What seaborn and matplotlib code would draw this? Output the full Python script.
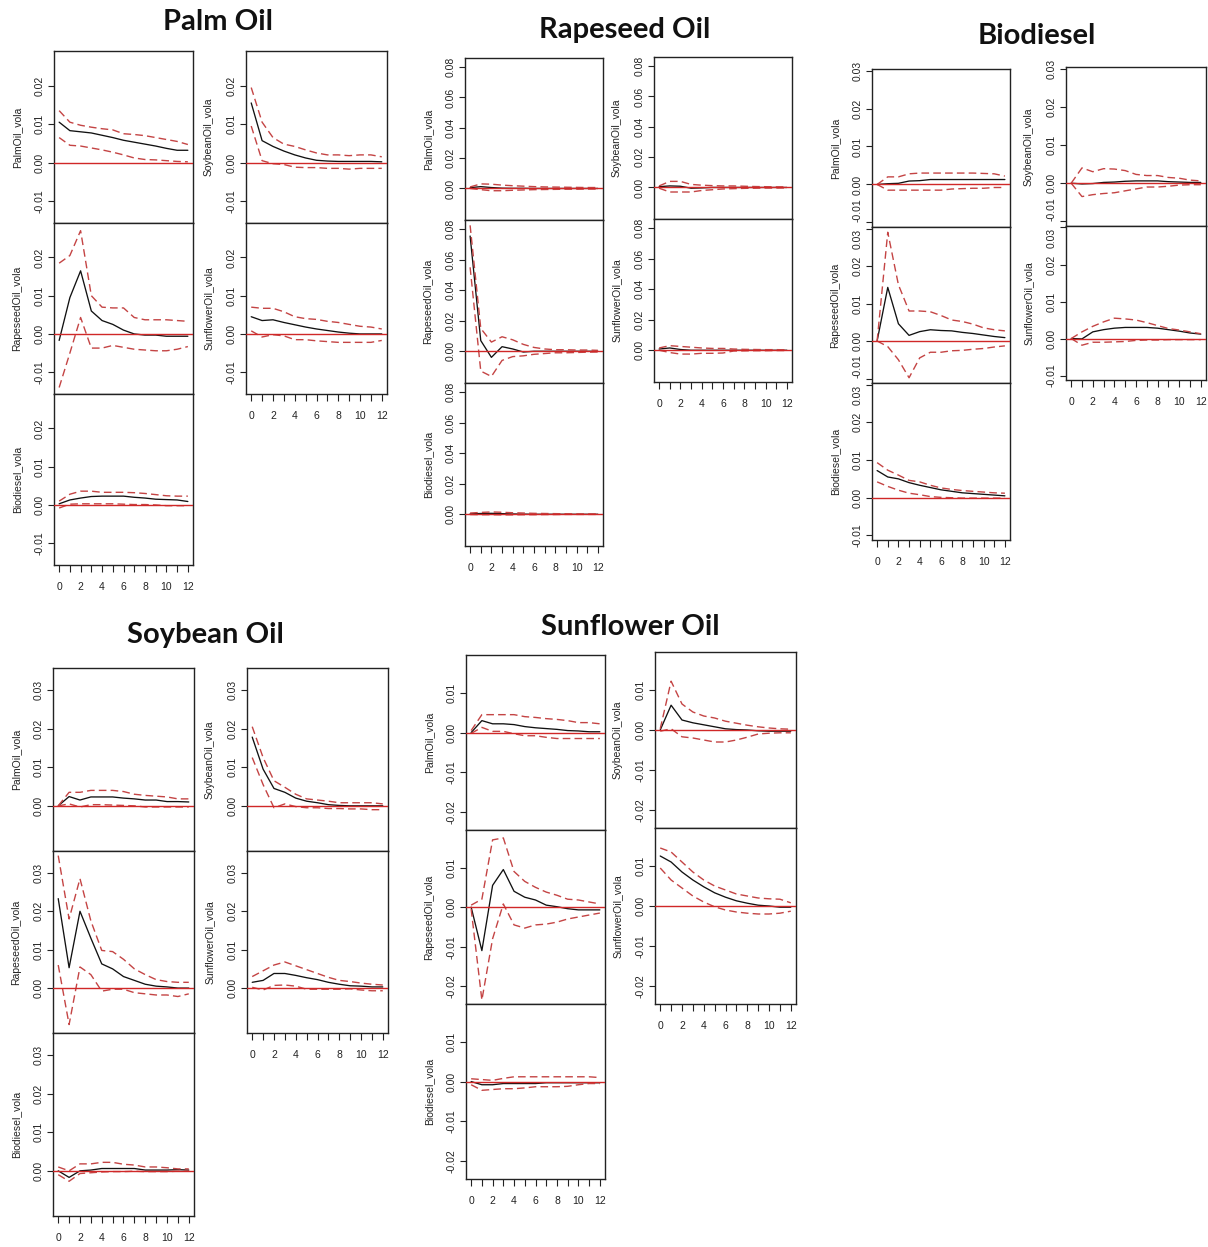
import matplotlib
matplotlib.use("Agg")
import matplotlib.pyplot as plt
import seaborn as sns
import pandas as pd

sns.set_style("ticks")
plt.rcParams['font.family'] = ['Liberation Sans', 'DejaVu Sans']

# ---------------- data ----------------
horizon = [0, 1, 2, 3, 4, 5, 6, 7, 8, 9, 10, 11, 12]
impulses = ["Palm Oil", "Rapeseed Oil", "Biodiesel", "Soybean Oil", "Sunflower Oil"]
responses = ["PalmOil_vola", "RapeseedOil_vola", "Biodiesel_vola", "SoybeanOil_vola", "SunflowerOil_vola"]

# --- impulse: Palm Oil ---
palm_palm = [0.0105, 0.0083, 0.0080, 0.0077, 0.0071, 0.0065, 0.0058, 0.0053, 0.0048, 0.0043, 0.0037, 0.0032, 0.0032]
palm_palm_hi = [0.0135, 0.0105, 0.0097, 0.0092, 0.0088, 0.0085, 0.0075, 0.0073, 0.0070, 0.0065, 0.0060, 0.0055, 0.0047]
palm_palm_lo = [0.0065, 0.0045, 0.0043, 0.0038, 0.0033, 0.0027, 0.0020, 0.0012, 0.0008, 0.0007, 0.0005, 0.0003, 0.0002]
palm_rape = [-0.0017, 0.0095, 0.0165, 0.0060, 0.0035, 0.0025, 0.0010, 0.0000, -0.0003, -0.0003, -0.0006, -0.0006, -0.0006]
palm_rape_hi = [0.0185, 0.0205, 0.0270, 0.0100, 0.0070, 0.0068, 0.0068, 0.0043, 0.0037, 0.0037, 0.0037, 0.0035, 0.0033]
palm_rape_lo = [-0.0140, -0.0050, 0.0043, -0.0037, -0.0037, -0.0030, -0.0035, -0.0040, -0.0042, -0.0044, -0.0044, -0.0040, -0.0033]
palm_bio = [0.0003, 0.0013, 0.0018, 0.0022, 0.0023, 0.0023, 0.0023, 0.0020, 0.0018, 0.0015, 0.0014, 0.0013, 0.0009]
palm_bio_hi = [0.0010, 0.0028, 0.0036, 0.0036, 0.0033, 0.0033, 0.0033, 0.0032, 0.0030, 0.0027, 0.0024, 0.0023, 0.0023]
palm_bio_lo = [-0.0008, 0.0002, 0.0003, 0.0003, 0.0003, 0.0003, 0.0002, 0.0001, 0.0001, 0.0000, -0.0002, -0.0002, -0.0002]
palm_soy = [0.0155, 0.0057, 0.0042, 0.0030, 0.0020, 0.0012, 0.0006, 0.0004, 0.0003, 0.0003, 0.0003, 0.0003, 0.0002]
palm_soy_hi = [0.0195, 0.0105, 0.0065, 0.0048, 0.0042, 0.0033, 0.0025, 0.0020, 0.0020, 0.0018, 0.0020, 0.0020, 0.0015]
palm_soy_lo = [0.0095, 0.0005, -0.0003, -0.0005, -0.0012, -0.0013, -0.0013, -0.0015, -0.0015, -0.0017, -0.0015, -0.0015, -0.0015]
palm_sun = [0.0045, 0.0035, 0.0037, 0.0030, 0.0024, 0.0018, 0.0013, 0.0009, 0.0005, 0.0002, 0.0000, 0.0000, 0.0000]
palm_sun_hi = [0.0070, 0.0067, 0.0067, 0.0058, 0.0045, 0.0040, 0.0038, 0.0033, 0.0030, 0.0025, 0.0020, 0.0018, 0.0013]
palm_sun_lo = [0.0008, -0.0008, -0.0002, -0.0005, -0.0015, -0.0015, -0.0018, -0.0020, -0.0022, -0.0022, -0.0022, -0.0022, -0.0017]

# --- impulse: Rapeseed Oil ---
rape_palm = [0.0005, 0.0012, 0.0006, 0.0002, 0.0001, 0.0001, 0.0000, 0.0000, 0.0000, 0.0000, 0.0000, 0.0000, 0.0000]
rape_palm_hi = [0.0010, 0.0030, 0.0028, 0.0022, 0.0018, 0.0015, 0.0012, 0.0010, 0.0009, 0.0008, 0.0007, 0.0006, 0.0006]
rape_palm_lo = [0.0000, -0.0008, -0.0015, -0.0015, -0.0012, -0.0010, -0.0008, -0.0007, -0.0006, -0.0005, -0.0005, -0.0004, -0.0004]
rape_rape = [0.0755, 0.0070, -0.0040, 0.0030, 0.0015, -0.0005, 0.0000, 0.0000, 0.0000, 0.0000, 0.0000, 0.0000, 0.0000]
rape_rape_hi = [0.0825, 0.0150, 0.0060, 0.0095, 0.0075, 0.0045, 0.0025, 0.0015, 0.0010, 0.0010, 0.0008, 0.0008, 0.0006]
rape_rape_lo = [0.0550, -0.0130, -0.0165, -0.0060, -0.0035, -0.0030, -0.0020, -0.0015, -0.0010, -0.0010, -0.0008, -0.0006, -0.0005]
rape_bio = [0.0003, 0.0005, 0.0006, 0.0004, 0.0002, 0.0001, 0.0000, 0.0000, 0.0000, 0.0000, 0.0000, 0.0000, 0.0000]
rape_bio_hi = [0.0008, 0.0012, 0.0015, 0.0013, 0.0010, 0.0008, 0.0006, 0.0005, 0.0004, 0.0003, 0.0002, 0.0002, 0.0002]
rape_bio_lo = [-0.0002, -0.0003, -0.0003, -0.0004, -0.0004, -0.0003, -0.0003, -0.0002, -0.0002, -0.0001, -0.0001, -0.0001, -0.0001]
rape_soy = [0.0005, 0.0010, 0.0008, -0.0005, -0.0003, 0.0000, 0.0000, 0.0000, 0.0000, 0.0000, 0.0000, 0.0000, 0.0000]
rape_soy_hi = [0.0010, 0.0040, 0.0040, 0.0020, 0.0015, 0.0012, 0.0010, 0.0010, 0.0008, 0.0006, 0.0005, 0.0004, 0.0004]
rape_soy_lo = [-0.0005, -0.0030, -0.0030, -0.0030, -0.0020, -0.0015, -0.0010, -0.0008, -0.0006, -0.0005, -0.0004, -0.0004, -0.0003]
rape_sun = [0.0008, 0.0015, 0.0005, 0.0000, 0.0000, 0.0000, 0.0000, 0.0000, 0.0000, 0.0000, 0.0000, 0.0000, 0.0000]
rape_sun_hi = [0.0015, 0.0030, 0.0025, 0.0020, 0.0015, 0.0012, 0.0012, 0.0008, 0.0006, 0.0005, 0.0004, 0.0004, 0.0003]
rape_sun_lo = [0.0000, -0.0015, -0.0025, -0.0025, -0.0020, -0.0020, -0.0018, -0.0005, -0.0004, -0.0003, -0.0003, -0.0002, -0.0002]

# --- impulse: Biodiesel ---
bio_palm = [0.0000, 0.0002, 0.0003, 0.0009, 0.0010, 0.0013, 0.0013, 0.0013, 0.0013, 0.0013, 0.0013, 0.0013, 0.0013]
bio_palm_hi = [0.0000, 0.0020, 0.0020, 0.0028, 0.0030, 0.0030, 0.0030, 0.0030, 0.0030, 0.0030, 0.0029, 0.0028, 0.0022]
bio_palm_lo = [0.0000, -0.0015, -0.0015, -0.0015, -0.0015, -0.0015, -0.0015, -0.0012, -0.0011, -0.0010, -0.0010, -0.0008, -0.0008]
bio_rape = [0.0000, 0.0143, 0.0046, 0.0015, 0.0025, 0.0030, 0.0028, 0.0027, 0.0023, 0.0020, 0.0016, 0.0012, 0.0009]
bio_rape_hi = [0.0000, 0.0290, 0.0150, 0.0080, 0.0080, 0.0078, 0.0068, 0.0056, 0.0052, 0.0045, 0.0035, 0.0030, 0.0027]
bio_rape_lo = [0.0000, -0.0015, -0.0050, -0.0098, -0.0045, -0.0030, -0.0030, -0.0026, -0.0025, -0.0022, -0.0020, -0.0016, -0.0013]
bio_bio = [0.0072, 0.0055, 0.0050, 0.0040, 0.0033, 0.0027, 0.0021, 0.0017, 0.0013, 0.0011, 0.0009, 0.0007, 0.0005]
bio_bio_hi = [0.0093, 0.0073, 0.0060, 0.0046, 0.0042, 0.0033, 0.0026, 0.0022, 0.0019, 0.0017, 0.0015, 0.0013, 0.0012]
bio_bio_lo = [0.0042, 0.0030, 0.0020, 0.0012, 0.0008, 0.0003, 0.0001, 0.0000, -0.0001, -0.0001, -0.0001, -0.0001, -0.0001]
bio_soy = [0.0000, -0.0002, -0.0001, 0.0002, 0.0003, 0.0005, 0.0006, 0.0006, 0.0006, 0.0004, 0.0003, 0.0002, 0.0002]
bio_soy_hi = [0.0000, 0.0040, 0.0030, 0.0038, 0.0037, 0.0033, 0.0023, 0.0020, 0.0020, 0.0015, 0.0013, 0.0008, 0.0006]
bio_soy_lo = [0.0000, -0.0035, -0.0030, -0.0027, -0.0025, -0.0020, -0.0015, -0.0010, -0.0010, -0.0008, -0.0005, -0.0004, -0.0004]
bio_sun = [0.0000, -0.0001, 0.0018, 0.0024, 0.0028, 0.0030, 0.0030, 0.0030, 0.0028, 0.0024, 0.0020, 0.0015, 0.0012]
bio_sun_hi = [0.0000, 0.0018, 0.0033, 0.0045, 0.0055, 0.0053, 0.0050, 0.0043, 0.0035, 0.0027, 0.0023, 0.0018, 0.0013]
bio_sun_lo = [0.0000, -0.0018, -0.0010, -0.0010, -0.0009, -0.0008, -0.0005, -0.0004, -0.0004, -0.0003, -0.0003, -0.0003, -0.0003]

# --- impulse: Soybean Oil ---
soy_palm = [0.0000, 0.0024, 0.0015, 0.0023, 0.0023, 0.0023, 0.0020, 0.0018, 0.0015, 0.0015, 0.0011, 0.0011, 0.0010]
soy_palm_hi = [0.0000, 0.0035, 0.0035, 0.0040, 0.0040, 0.0040, 0.0037, 0.0030, 0.0027, 0.0025, 0.0023, 0.0018, 0.0018]
soy_palm_lo = [0.0000, 0.0005, -0.0003, 0.0003, 0.0003, 0.0002, 0.0001, 0.0000, -0.0003, -0.0003, -0.0003, -0.0003, -0.0003]
soy_rape = [0.0233, 0.0053, 0.0200, 0.0130, 0.0063, 0.0050, 0.0030, 0.0020, 0.0010, 0.0005, 0.0003, 0.0000, 0.0000]
soy_rape_hi = [0.0345, 0.0180, 0.0285, 0.0175, 0.0098, 0.0095, 0.0075, 0.0050, 0.0035, 0.0022, 0.0017, 0.0015, 0.0015]
soy_rape_lo = [0.0060, -0.0095, 0.0055, 0.0035, -0.0008, -0.0003, -0.0003, -0.0012, -0.0015, -0.0018, -0.0018, -0.0022, -0.0015]
soy_bio = [0.0000, -0.0017, 0.0000, 0.0002, 0.0006, 0.0006, 0.0006, 0.0006, 0.0002, 0.0002, 0.0002, 0.0003, 0.0002]
soy_bio_hi = [0.0010, 0.0000, 0.0018, 0.0018, 0.0022, 0.0022, 0.0017, 0.0015, 0.0010, 0.0010, 0.0008, 0.0005, 0.0005]
soy_bio_lo = [-0.0010, -0.0027, -0.0007, -0.0005, -0.0003, -0.0002, -0.0002, -0.0001, -0.0002, -0.0002, -0.0002, -0.0001, -0.0001]
soy_soy = [0.0178, 0.0095, 0.0045, 0.0035, 0.0020, 0.0012, 0.0008, 0.0003, 0.0001, 0.0000, 0.0000, 0.0000, 0.0000]
soy_soy_hi = [0.0205, 0.0125, 0.0065, 0.0048, 0.0030, 0.0018, 0.0015, 0.0012, 0.0008, 0.0008, 0.0008, 0.0008, 0.0005]
soy_soy_lo = [0.0125, 0.0055, -0.0005, 0.0005, -0.0002, -0.0005, -0.0005, -0.0007, -0.0007, -0.0008, -0.0008, -0.0010, -0.0010]
soy_sun = [0.0015, 0.0020, 0.0038, 0.0038, 0.0033, 0.0027, 0.0022, 0.0015, 0.0010, 0.0006, 0.0005, 0.0003, 0.0003]
soy_sun_hi = [0.0030, 0.0045, 0.0060, 0.0068, 0.0058, 0.0048, 0.0038, 0.0028, 0.0020, 0.0017, 0.0013, 0.0010, 0.0008]
soy_sun_lo = [0.0002, -0.0005, 0.0007, 0.0008, 0.0005, -0.0003, -0.0003, -0.0003, -0.0003, -0.0002, -0.0005, -0.0007, -0.0007]

# --- impulse: Sunflower Oil ---
sun_palm = [0.0000, 0.0030, 0.0022, 0.0022, 0.0020, 0.0015, 0.0012, 0.0010, 0.0008, 0.0005, 0.0004, 0.0002, 0.0002]
sun_palm_hi = [0.0005, 0.0045, 0.0045, 0.0045, 0.0045, 0.0040, 0.0038, 0.0035, 0.0033, 0.0030, 0.0025, 0.0025, 0.0022]
sun_palm_lo = [-0.0002, 0.0013, 0.0003, 0.0003, -0.0003, -0.0008, -0.0008, -0.0012, -0.0015, -0.0015, -0.0015, -0.0015, -0.0015]
sun_rape = [0.0000, -0.0110, 0.0055, 0.0095, 0.0040, 0.0025, 0.0018, 0.0005, 0.0001, -0.0004, -0.0007, -0.0007, -0.0007]
sun_rape_hi = [0.0005, 0.0020, 0.0170, 0.0175, 0.0090, 0.0065, 0.0050, 0.0038, 0.0030, 0.0020, 0.0018, 0.0013, 0.0008]
sun_rape_lo = [-0.0005, -0.0235, -0.0080, 0.0008, -0.0045, -0.0053, -0.0045, -0.0043, -0.0038, -0.0030, -0.0025, -0.0020, -0.0015]
sun_bio = [0.0000, -0.0008, -0.0008, -0.0005, -0.0005, -0.0005, -0.0005, -0.0003, -0.0003, -0.0003, -0.0003, -0.0003, -0.0003]
sun_bio_hi = [0.0007, 0.0005, 0.0003, 0.0008, 0.0012, 0.0012, 0.0012, 0.0012, 0.0012, 0.0012, 0.0012, 0.0012, 0.0010]
sun_bio_lo = [-0.0008, -0.0022, -0.0020, -0.0018, -0.0018, -0.0016, -0.0013, -0.0013, -0.0013, -0.0012, -0.0008, -0.0005, -0.0005]
sun_soy = [0.0000, 0.0062, 0.0025, 0.0018, 0.0013, 0.0008, 0.0003, 0.0001, 0.0000, -0.0002, -0.0003, -0.0003, -0.0003]
sun_soy_hi = [0.0003, 0.0122, 0.0065, 0.0045, 0.0035, 0.0030, 0.0022, 0.0017, 0.0012, 0.0008, 0.0005, 0.0003, 0.0002]
sun_soy_lo = [-0.0003, 0.0003, -0.0017, -0.0020, -0.0025, -0.0030, -0.0030, -0.0025, -0.0018, -0.0010, -0.0008, -0.0007, -0.0007]
sun_sun = [0.0125, 0.0110, 0.0085, 0.0065, 0.0048, 0.0033, 0.0022, 0.0013, 0.0007, 0.0002, 0.0000, -0.0003, -0.0003]
sun_sun_hi = [0.0145, 0.0135, 0.0110, 0.0085, 0.0065, 0.0050, 0.0040, 0.0030, 0.0025, 0.0020, 0.0018, 0.0017, 0.0008]
sun_sun_lo = [0.0095, 0.0065, 0.0045, 0.0025, 0.0010, -0.0002, -0.0010, -0.0015, -0.0018, -0.0020, -0.0020, -0.0018, -0.0013]

# table built from the named arrays: (impulse, response) -> (irf, lo, hi)
series = {
    ("Palm Oil", "PalmOil_vola"): (palm_palm, palm_palm_lo, palm_palm_hi),
    ("Palm Oil", "RapeseedOil_vola"): (palm_rape, palm_rape_lo, palm_rape_hi),
    ("Palm Oil", "Biodiesel_vola"): (palm_bio, palm_bio_lo, palm_bio_hi),
    ("Palm Oil", "SoybeanOil_vola"): (palm_soy, palm_soy_lo, palm_soy_hi),
    ("Palm Oil", "SunflowerOil_vola"): (palm_sun, palm_sun_lo, palm_sun_hi),
    ("Rapeseed Oil", "PalmOil_vola"): (rape_palm, rape_palm_lo, rape_palm_hi),
    ("Rapeseed Oil", "RapeseedOil_vola"): (rape_rape, rape_rape_lo, rape_rape_hi),
    ("Rapeseed Oil", "Biodiesel_vola"): (rape_bio, rape_bio_lo, rape_bio_hi),
    ("Rapeseed Oil", "SoybeanOil_vola"): (rape_soy, rape_soy_lo, rape_soy_hi),
    ("Rapeseed Oil", "SunflowerOil_vola"): (rape_sun, rape_sun_lo, rape_sun_hi),
    ("Biodiesel", "PalmOil_vola"): (bio_palm, bio_palm_lo, bio_palm_hi),
    ("Biodiesel", "RapeseedOil_vola"): (bio_rape, bio_rape_lo, bio_rape_hi),
    ("Biodiesel", "Biodiesel_vola"): (bio_bio, bio_bio_lo, bio_bio_hi),
    ("Biodiesel", "SoybeanOil_vola"): (bio_soy, bio_soy_lo, bio_soy_hi),
    ("Biodiesel", "SunflowerOil_vola"): (bio_sun, bio_sun_lo, bio_sun_hi),
    ("Soybean Oil", "PalmOil_vola"): (soy_palm, soy_palm_lo, soy_palm_hi),
    ("Soybean Oil", "RapeseedOil_vola"): (soy_rape, soy_rape_lo, soy_rape_hi),
    ("Soybean Oil", "Biodiesel_vola"): (soy_bio, soy_bio_lo, soy_bio_hi),
    ("Soybean Oil", "SoybeanOil_vola"): (soy_soy, soy_soy_lo, soy_soy_hi),
    ("Soybean Oil", "SunflowerOil_vola"): (soy_sun, soy_sun_lo, soy_sun_hi),
    ("Sunflower Oil", "PalmOil_vola"): (sun_palm, sun_palm_lo, sun_palm_hi),
    ("Sunflower Oil", "RapeseedOil_vola"): (sun_rape, sun_rape_lo, sun_rape_hi),
    ("Sunflower Oil", "Biodiesel_vola"): (sun_bio, sun_bio_lo, sun_bio_hi),
    ("Sunflower Oil", "SoybeanOil_vola"): (sun_soy, sun_soy_lo, sun_soy_hi),
    ("Sunflower Oil", "SunflowerOil_vola"): (sun_sun, sun_sun_lo, sun_sun_hi),
}

# axis scales per impulse block
y_limits = {
    "Palm Oil": (-0.0157, 0.0290),
    "Rapeseed Oil": (-0.0208, 0.0860),
    "Biodiesel": (-0.0112, 0.0304),
    "Soybean Oil": (-0.0117, 0.0357),
    "Sunflower Oil": (-0.0245, 0.0195),
}
y_ticks = {
    "Palm Oil": [-0.01, 0.0, 0.01, 0.02],
    "Rapeseed Oil": [0.0, 0.02, 0.04, 0.06, 0.08],
    "Biodiesel": [-0.01, 0.0, 0.01, 0.02, 0.03],
    "Soybean Oil": [0.0, 0.01, 0.02, 0.03],
    "Sunflower Oil": [-0.02, -0.01, 0.0, 0.01],
}

# ---------------- layout (pixels) ----------------
W, H = 1208, 1247
layout = {
    "Palm Oil": dict(title=(218, 22), left=(54, 193, [51, 223, 394, 565]), right=(246, 387, [51, 223, 394])),
    "Rapeseed Oil": dict(title=(625, 30), left=(465, 603, [58, 220, 383, 546]), right=(654, 792, [57, 219, 382])),
    "Biodiesel": dict(title=(1037, 36), left=(872, 1010, [69, 227, 383, 540]), right=(1066, 1206, [67, 226, 380])),
    "Soybean Oil": dict(title=(205, 635), left=(53, 194, [668, 851, 1033, 1216]), right=(247, 388, [668, 851, 1033])),
    "Sunflower Oil": dict(title=(630, 627), left=(466, 605, [655, 830, 1004, 1179]), right=(655, 796, [652, 828, 1004])),
}
left_vars = ["PalmOil_vola", "RapeseedOil_vola", "Biodiesel_vola"]
right_vars = ["SoybeanOil_vola", "SunflowerOil_vola"]

BLACK = "#111111"
DASH = "#c44444"
ZERO = "#d02828"

fig = plt.figure(figsize=(W / 100, H / 100), dpi=100)


def draw_panel(impulse, resp, x0, x1, y0, y1, is_bottom, is_top):
    ax = fig.add_axes([x0 / W, 1 - y1 / H, (x1 - x0) / W, (y1 - y0) / H])
    irf, lo, hi = series[(impulse, resp)]
    df = pd.DataFrame({"h": horizon, "irf": irf, "lo": lo, "hi": hi})
    sns.lineplot(data=df, x="h", y="irf", ax=ax, color=BLACK, lw=0.95, zorder=3)
    for col in ["lo", "hi"]:
        sns.lineplot(data=df, x="h", y=col, ax=ax, color=DASH, lw=1.0,
                     linestyle=(0, (5.5, 3)), zorder=4)
    ax.axhline(0, color=ZERO, lw=1.0, zorder=5)
    ax.set_xlim(-0.48, 12.48)
    ylo, yhi = y_limits[impulse]
    ax.set_ylim(ylo, yhi)
    ticks = y_ticks[impulse]
    ax.set_yticks(ticks)
    labels = ax.set_yticklabels([f"{t:.2f}" for t in ticks], rotation=90, va="center")
    # ticks sitting right at a shared panel edge: keep their labels inside the panel
    span = yhi - ylo
    h_px = y1 - y0
    for t, lab in zip(ticks, labels):
        if (t - ylo) / span * h_px < 7 and not is_bottom:
            lab.set_va("bottom")
        elif (yhi - t) / span * h_px < 7 and not is_top:
            lab.set_va("top")
    ax.tick_params(axis="y", direction="out", length=4.5, width=0.8, pad=2.5,
                   labelsize=7.5, left=True, colors="#222222")
    if is_bottom:
        ax.set_xticks(horizon)
        ax.set_xticklabels([str(h) if h % 2 == 0 else "" for h in horizon])
        ax.tick_params(axis="x", direction="out", length=5, width=0.8, pad=7,
                       labelsize=7.5, bottom=True, colors="#222222")
    else:
        ax.set_xticks([])
    ax.set_xlabel("")
    ax.set_ylabel("")
    for sp in ax.spines.values():
        sp.set_visible(True)
        sp.set_color("#222222")
        sp.set_linewidth(1.0)
    fig.text((x0 - 37) / W, 1 - (y0 + y1) / 2 / H, resp, rotation=90,
             ha="center", va="center", fontsize=7.5, color="#222222")


for imp in impulses:
    lay = layout[imp]
    tx, ty = lay["title"]
    fig.text(tx / W, 1 - ty / H, imp, ha="center", va="center",
             fontsize=21, fontweight="bold", family=["Lato", "DejaVu Sans"], color="#111111")
    x0, x1, rows = lay["left"]
    for i, resp in enumerate(left_vars):
        draw_panel(imp, resp, x0, x1, rows[i], rows[i + 1],
                   i == len(left_vars) - 1, i == 0)
    x0, x1, rows = lay["right"]
    for i, resp in enumerate(right_vars):
        draw_panel(imp, resp, x0, x1, rows[i], rows[i + 1],
                   i == len(right_vars) - 1, i == 0)

fig.savefig("out.png", dpi=100)
